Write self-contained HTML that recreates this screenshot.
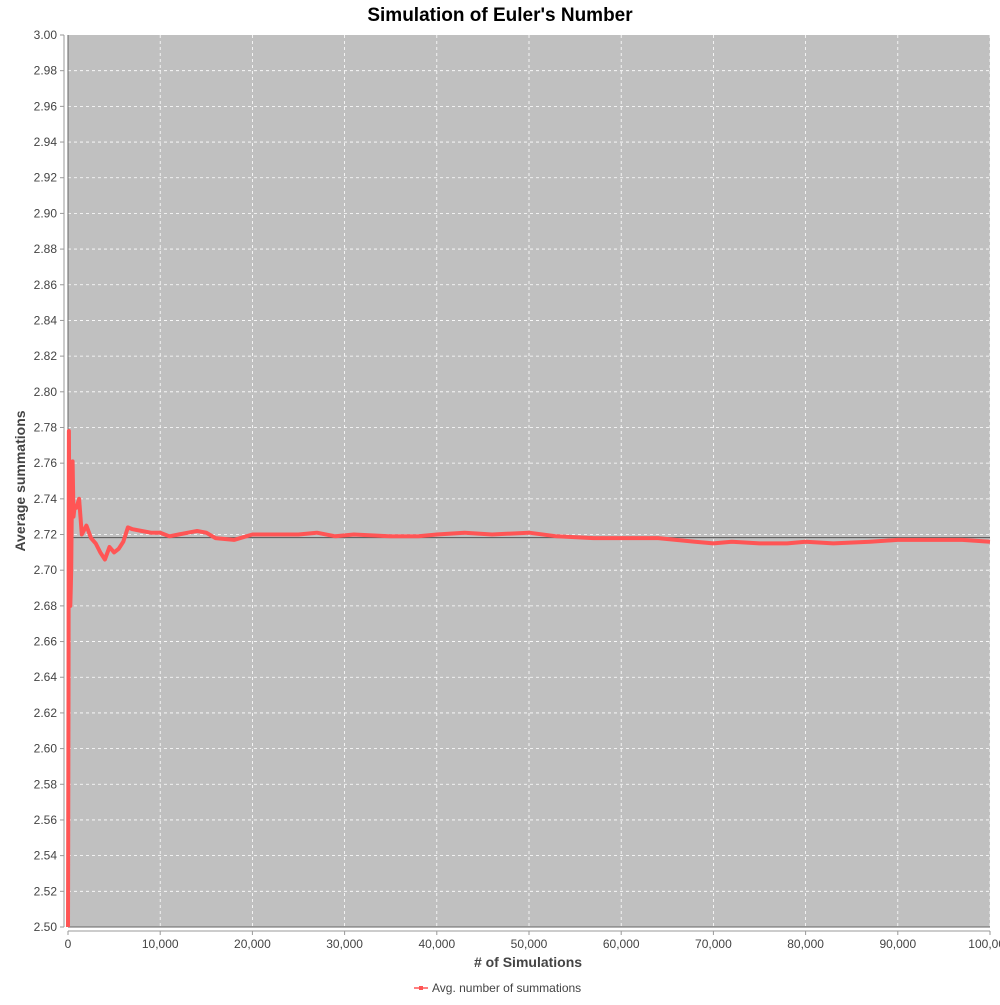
<!DOCTYPE html>
<html><head><meta charset="utf-8"><style>
body{margin:0;background:#fff;font-family:"Liberation Sans",sans-serif;}
</style></head><body>
<svg id="c" width="1000" height="1000" xmlns="http://www.w3.org/2000/svg">
<text x="500" y="21" text-anchor="middle" font-size="19" font-weight="bold" fill="#000">Simulation of Euler's Number</text>
<rect x="68" y="35" width="922" height="892" fill="#c0c0c0"/>
<g id="grid"></g><g id="axes"></g><g id="series"></g>
<text x="528" y="967" text-anchor="middle" font-size="14" font-weight="bold" fill="#444"># of Simulations</text>
<text transform="translate(25,481) rotate(-90)" text-anchor="middle" font-size="14" font-weight="bold" fill="#444">Average summations</text>
<g>
<line x1="414" y1="988" x2="428" y2="988" stroke="#ff5555" stroke-width="1.5"/>
<rect x="419" y="986" width="4" height="4" fill="#ff5555"/>
<text x="432" y="992" font-size="12" fill="#444">Avg. number of summations</text>
</g>
</svg>
<script>
const xTicks=[0,10000,20000,30000,40000,50000,60000,70000,80000,90000,100000];
const yTicks=[];for(let i=0;i<=25;i++)yTicks.push(2.5+i*0.02);
const simX=[0,20,50,80,100,130,150,200,250,300,350,420,500,600,700,900,1200,1500,2000,2500,3000,3500,4000,4500,5000,5500,6000,6500,7000,8000,9000,10000,11000,12000,13000,14000,15000,16000,18000,20000,22000,25000,27000,29000,31000,35000,38000,40000,43000,46000,50000,53000,57000,60000,64000,68000,70000,72000,75000,78000,80000,83000,87000,90000,94000,97000,100000];
const avgY=[2.50,2.55,2.63,2.72,2.778,2.74,2.70,2.683,2.68,2.69,2.70,2.74,2.761,2.73,2.735,2.735,2.74,2.72,2.725,2.718,2.715,2.71,2.706,2.713,2.71,2.712,2.716,2.724,2.723,2.722,2.721,2.721,2.719,2.72,2.721,2.722,2.721,2.718,2.717,2.72,2.72,2.72,2.721,2.719,2.72,2.719,2.719,2.72,2.721,2.72,2.721,2.719,2.718,2.718,2.718,2.716,2.715,2.716,2.715,2.715,2.716,2.715,2.716,2.717,2.717,2.717,2.716];
const L=68,R=990,T=35,B=927,ns="http://www.w3.org/2000/svg";
const sx=v=>L+(v-0)/100000*(R-L), sy=v=>B-(v-2.5)/0.5*(B-T);
function mk(tag,attrs,parent){const e=document.createElementNS(ns,tag);for(const k in attrs)e.setAttribute(k,attrs[k]);parent.appendChild(e);return e;}
const grid=document.getElementById('grid'),axes=document.getElementById('axes'),ser=document.getElementById('series');
xTicks.forEach(v=>{
 if(v>0){const g=mk('line',{x1:sx(v),x2:sx(v),y1:T,y2:B,stroke:'#fff','stroke-dasharray':'3,3','stroke-width':0.8},grid);
 
 }
 mk('line',{x1:sx(v),x2:sx(v),y1:931,y2:935,stroke:'#999'},axes);
 const t=mk('text',{x:sx(v),y:948,'text-anchor':'middle','font-size':12,fill:'#444'},axes);
 t.textContent=v.toLocaleString('en-US');
 
 
});
yTicks.forEach(v=>{
 if(v>2.501&&v<2.999){const g=mk('line',{x1:L,x2:R,y1:sy(v),y2:sy(v),stroke:'#fff','stroke-dasharray':'3,3','stroke-width':0.8},grid);
 
 }
 mk('line',{x1:60,x2:64,y1:sy(v),y2:sy(v),stroke:'#999'},axes);
 const t=mk('text',{x:57,y:sy(v)+4,'text-anchor':'end','font-size':12,fill:'#444'},axes);
 t.textContent=v.toFixed(2);
 
 
});
mk('line',{x1:64,x2:64,y1:T,y2:B,stroke:'#999'},axes);
mk('line',{x1:L,x2:R,y1:931,y2:931,stroke:'#999'},axes);
mk('line',{x1:L,x2:L,y1:T,y2:B,stroke:'#666'},axes);
mk('line',{x1:L,x2:R,y1:B,y2:B,stroke:'#666'},axes);
const ref=mk('line',{x1:L,x2:R,y1:sy(2.71828),y2:sy(2.71828),stroke:'#555','stroke-width':1},ser);


const p=mk('path',{d:simX.map((x,i)=>(i?'L':'M')+sx(x).toFixed(1)+','+sy(avgY[i]).toFixed(1)).join(''),fill:'none',stroke:'#ff5555','stroke-width':4,'stroke-linejoin':'round'},ser);


</script>
</body></html>
